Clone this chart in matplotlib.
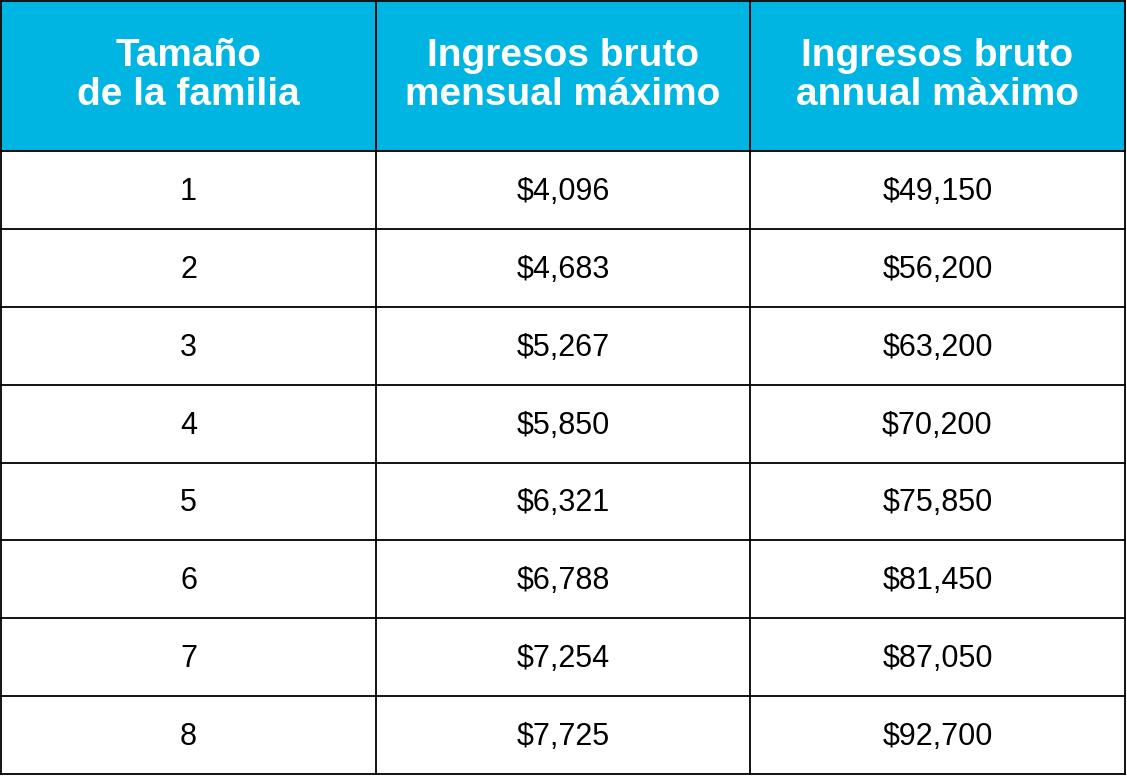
import matplotlib
matplotlib.use("Agg")
import matplotlib.pyplot as plt
from matplotlib.patches import Rectangle

headers = ["Tamaño\nde la familia", "Ingresos bruto\nmensual máximo", "Ingresos bruto\nannual màximo"]
family_size = ["1", "2", "3", "4", "5", "6", "7", "8"]
monthly = ["$4,096", "$4,683", "$5,267", "$5,850", "$6,321", "$6,788", "$7,254", "$7,725"]
annual = ["$49,150", "$56,200", "$63,200", "$70,200", "$75,850", "$81,450", "$87,050", "$92,700"]

W, H = 1127, 776
fig = plt.figure(figsize=(W/100, H/100), dpi=100)
ax = fig.add_axes([0, 0, 1, 1])
ax.set_xlim(0, W); ax.set_ylim(H, 0); ax.axis("off")

col_x = [1, 376, 750, 1125]
header_h = 151
row_h = (774 - header_h) / len(family_size)
hc = "#00B5E2"
ax.add_patch(Rectangle((1, 1), 1124, header_h - 1, facecolor=hc, edgecolor="none"))
font = "Liberation Sans"
for i, h in enumerate(headers):
    ax.text((col_x[i] + col_x[i+1]) / 2, header_h / 2, h, ha="center", va="center",
            color="white", fontsize=28, fontweight="bold", family=font, linespacing=1.1)
cols = [family_size, monthly, annual]
for r in range(len(family_size)):
    yc = header_h + (r + 0.5) * row_h
    for c in range(3):
        ax.text((col_x[c] + col_x[c+1]) / 2, yc + 2, cols[c][r], ha="center", va="center",
                color="black", fontsize=22, family=font)
# grid lines
lc = "black"
for x in col_x:
    ax.plot([x, x], [1, 774], color=lc, lw=1.3)
ax.plot([1, 1125], [1, 1], color=lc, lw=1.3)
for r in range(len(family_size) + 1):
    y = header_h + r * row_h
    ax.plot([1, 1125], [y, y], color=lc, lw=1.3)
fig.savefig("out.png", dpi=100)
